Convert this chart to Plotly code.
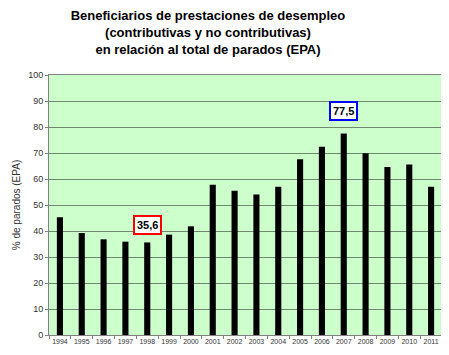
import plotly.graph_objects as go

years = ["1994", "1995", "1996", "1997", "1998", "1999", "2000", "2001", "2002",
         "2003", "2004", "2005", "2006", "2007", "2008", "2009", "2010", "2011"]
values = [45.3, 39.2, 36.8, 35.9, 35.6, 38.6, 41.8, 57.8, 55.5,
          54.0, 57.0, 67.6, 72.4, 77.5, 69.9, 64.6, 65.6, 57.0]

min_label = "35,6"
max_label = "77,5"
min_year = "1998"
max_year = "2007"

# page body has an 8px default margin; size the figure to fit the window
W, H = 441, 347

fig = go.Figure()
fig.add_trace(go.Bar(x=years, y=values, marker=dict(color="black", line=dict(width=0)),
                     width=0.28, showlegend=False))

fig.add_annotation(x=years.index(min_year), y=42.3, text="<b>" + min_label + "</b>", showarrow=False,
                   font=dict(family="Arial", size=11, color="black"),
                   bordercolor="#ff0000", borderwidth=2, borderpad=2, bgcolor="white")
fig.add_annotation(x=years.index(max_year), y=86, text="<b>" + max_label + "</b>", showarrow=False,
                   font=dict(family="Arial", size=11, color="black"),
                   bordercolor="#0000ff", borderwidth=2, borderpad=2, bgcolor="white")

fig.update_layout(
    width=W, height=H,
    margin=dict(l=41, r=7, t=67, b=20, autoexpand=False),
    paper_bgcolor="white",
    plot_bgcolor="#ccffcc",
    title=dict(text="<b>Beneficiarios de prestaciones de desempleo<br>(contributivas y no contributivas)<br>en relación al total de parados (EPA)</b>",
               x=200/W, xanchor="center", y=1 - 12/H, yanchor="top",
               font=dict(family="Arial", size=13, color="black")),
    font=dict(family="Arial"),
)
fig.update_xaxes(type="category", range=[-0.5, len(years) - 0.5], autorange=False,
                 tickson="boundaries", ticks="outside", ticklen=3,
                 tickcolor="#808080", tickfont=dict(size=7, color="#333333"), tickangle=0,
                 showline=True, linecolor="#808080", linewidth=1, mirror=True,
                 showgrid=False)
fig.update_yaxes(range=[0, 100], autorange=False, dtick=10, ticks="outside", ticklen=3, tickcolor="#808080",
                 tickfont=dict(size=9, color="#333333"),
                 showline=True, linecolor="#808080", linewidth=1, mirror=True,
                 showgrid=True, gridcolor="#6e8a6e", gridwidth=1, zeroline=False,
                 title=dict(text="% de parados (EPA)", font=dict(size=10, color="#333333"), standoff=5))

fig.write_html("out.html")
